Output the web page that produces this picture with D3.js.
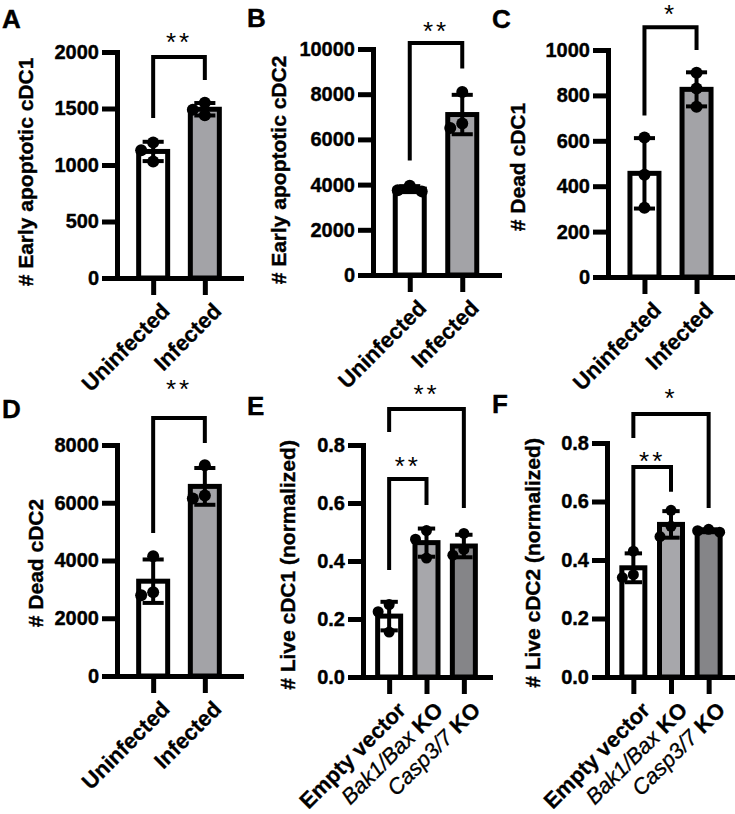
<!DOCTYPE html>
<html>
<head>
<meta charset="utf-8">
<script src="https://cdn.jsdelivr.net/npm/d3@7"></script>
<style>
  body { margin: 0; background: #fff; }
  text { font-family: "Liberation Sans", Arial, sans-serif; }
</style>
</head>
<body>
<svg id="fig" width="735" height="814"></svg>
<script>
// groups on the x axis
const infGroups = ["Uninfected", "Infected"];
const koGroups = ["Empty vector", "Bak1/Bax KO", "Casp3/7 KO"];

// replicate values (3 per group)
const earlyCDC1 = [[1200, 1130, 1030], [1550, 1490, 1440]];
const earlyCDC2 = [[3950, 3750, 3700], [8100, 6700, 6500]];
const deadCDC1 = [[615, 450, 305], [900, 830, 750]];
const deadCDC2 = [[4150, 2900, 2800], [7300, 6250, 6150]];
const liveCDC1 = [[0.25, 0.225, 0.155], [0.505, 0.475, 0.41], [0.495, 0.44, 0.42]];
const liveCDC2 = [[0.43, 0.35, 0.34], [0.57, 0.515, 0.48], [0.505, 0.5, 0.495]];

// y tick labels
const ticksA = [0, 500, 1000, 1500, 2000];
const ticksB = [0, 2000, 4000, 6000, 8000, 10000];
const ticksC = [0, 200, 400, 600, 800, 1000];
const ticksD = [0, 2000, 4000, 6000, 8000];
const ticksE = [0, 0.2, 0.4, 0.6, 0.8];

// significance: [from, to, bracket level, left leg end, right leg end, label, label level]
const sigA = [[0, 1, 1956, 1416, 1752, "**", 2140]];
const sigB = [[0, 1, 10260, 5070, 9140, "**", 11060]];
const sigC = [[0, 1, 1100, 712, 1000, "*", 1186]];
const sigD = [[0, 1, 8935, 4950, 8070, "**", 10147]];
const sigE = [[0, 1, 0.683, 0.369, 0.593, "**", 0.748], [0, 2, 0.924, 0.845, 0.583, "**", 0.997]];
const sigF = [[0, 1, 0.718, 0.441, 0.633, "**", 0.759], [0, 2, 0.899, 0.817, 0.578, "*", 0.974]];

const infFills = ["#ffffff", "#a3a3a7"];
const koFills = ["#ffffff", "#a7a7ab", "#858588"];

const svg = d3.select("#fig");
const sw = 5;
const font = "'Liberation Sans', Arial, sans-serif";

const panels = [
  { letter: "A", groups: infGroups, values: earlyCDC1, ticks: ticksA, sig: sigA, fills: infFills,
    ylab: "# Early apoptotic cDC1", left: 117, right: 241, bottom: 278, top: 52, lx: 2, ly: 28, yx: 33, yy: 172 },
  { letter: "B", groups: infGroups, values: earlyCDC2, ticks: ticksB, sig: sigB, fills: infFills,
    ylab: "# Early apoptotic cDC2", left: 373, right: 499, bottom: 275, top: 49, lx: 247, ly: 27, yx: 286, yy: 170 },
  { letter: "C", groups: infGroups, values: deadCDC1, ticks: ticksC, sig: sigC, fills: infFills,
    ylab: "# Dead cDC1", left: 608, right: 733, bottom: 277, top: 50, lx: 492, ly: 28, yx: 525, yy: 167 },
  { letter: "D", groups: infGroups, values: deadCDC2, ticks: ticksD, sig: sigD, fills: infFills,
    ylab: "# Dead cDC2", left: 117, right: 241, bottom: 676, top: 445, lx: 2, ly: 418, yx: 43, yy: 563 },
  { letter: "E", groups: koGroups, values: liveCDC1, ticks: ticksE, sig: sigE, fills: koFills,
    ylab: "# Live cDC1 (normalized)", left: 363, right: 490, bottom: 677, top: 445, lx: 247, ly: 415, yx: 295, yy: 565, fmt: d3.format(".1f") },
  { letter: "F", groups: koGroups, values: liveCDC2, ticks: ticksE, sig: sigF, fills: koFills,
    ylab: "# Live cDC2 (normalized)", left: 607, right: 735, bottom: 677, top: 443, lx: 492, ly: 413, yx: 540, yy: 563, fmt: d3.format(".1f") }
];

// simple swarm so overlapping dots spread sideways
function swarm(vals, y, r) {
  const order = d3.range(vals.length).sort((a, b) => vals[b] - vals[a]);
  const placed = [];
  const off = vals.map(() => 0);
  for (const i of order) {
    const yi = y(vals[i]);
    for (const c of [0, -2 * r, 2 * r, -r, r]) {
      if (placed.every(p => Math.hypot(p.x - c, p.y - yi) >= 2 * r * 0.95)) {
        off[i] = c;
        placed.push({ x: c, y: yi });
        break;
      }
    }
  }
  return off;
}

panels.forEach(p => {
  const g = svg.append("g");
  const x = d3.scalePoint().domain(p.groups).range([p.left, p.right]).padding(0.7);
  const y = d3.scaleLinear().domain([0, d3.max(p.ticks)]).range([p.bottom, p.top]);
  const bw = p.groups.length === 2 ? 34 : 28;
  const capW = bw * 0.62;
  const r = p.groups.length === 2 ? 6 : 5.5;

  const stats = p.values.map((v, i) => ({
    g: p.groups[i], vals: v, mean: d3.mean(v), sd: d3.deviation(v), fill: p.fills[i]
  }));

  // bars
  g.selectAll("rect.bar").data(stats).join("rect")
    .attr("class", "bar")
    .attr("x", d => x(d.g) - (bw - sw) / 2)
    .attr("width", bw - sw)
    .attr("y", d => y(d.mean))
    .attr("height", d => p.bottom - y(d.mean))
    .attr("fill", d => d.fill)
    .attr("stroke", "#000")
    .attr("stroke-width", sw);

  // error bars (mean +/- SD)
  const eb = g.selectAll("g.err").data(stats).join("g").attr("class", "err")
    .attr("stroke", "#000").attr("stroke-width", 4);
  eb.append("line")
    .attr("x1", d => x(d.g)).attr("x2", d => x(d.g))
    .attr("y1", d => y(d.mean - d.sd)).attr("y2", d => y(d.mean + d.sd));
  eb.append("line")
    .attr("x1", d => x(d.g) - capW / 2).attr("x2", d => x(d.g) + capW / 2)
    .attr("y1", d => y(d.mean + d.sd)).attr("y2", d => y(d.mean + d.sd));
  eb.append("line")
    .attr("x1", d => x(d.g) - capW / 2).attr("x2", d => x(d.g) + capW / 2)
    .attr("y1", d => y(d.mean - d.sd)).attr("y2", d => y(d.mean - d.sd));

  // replicate dots
  stats.forEach(s => {
    const off = swarm(s.vals, y, r);
    g.selectAll(null).data(s.vals).join("circle")
      .attr("cx", (d, i) => x(s.g) + off[i])
      .attr("cy", d => y(d))
      .attr("r", r)
      .attr("fill", "#000");
  });

  // y axis
  const ya = g.append("g")
    .attr("transform", `translate(${p.left},0)`)
    .call(d3.axisLeft(y).tickValues(p.ticks).tickFormat(p.fmt || d3.format("d"))
      .tickSize(15).tickSizeOuter(0).tickPadding(3));
  // x axis
  const xa = g.append("g")
    .attr("transform", `translate(0,${p.bottom})`)
    .call(d3.axisBottom(x).tickSize(17).tickSizeOuter(0));

  [ya, xa].forEach(a => {
    a.select(".domain").attr("stroke", "#000").attr("stroke-width", sw).attr("stroke-linecap", "square");
    a.selectAll(".tick line").attr("stroke", "#000").attr("stroke-width", sw);
  });
  ya.selectAll(".tick text")
    .attr("fill", "#000").attr("stroke", "#000").attr("stroke-width", 0.4)
    .style("font-size", "20px").style("font-weight", "bold").style("font-family", font);

  xa.selectAll(".tick text").remove();
  xa.selectAll(".tick").append("text")
    .attr("transform", "translate(12,29) rotate(-45)")
    .attr("text-anchor", "end")
    .attr("dy", "0.35em")
    .attr("fill", "#000")
    .attr("stroke", "#000").attr("stroke-width", 0.3)
    .style("font-size", "22px")
    .style("font-family", font)
    .each(function (d) {
      const t = d3.select(this);
      if (d.endsWith(" KO")) {
        t.append("tspan").style("font-style", "italic").text(d.slice(0, -3));
        t.append("tspan").style("font-weight", "bold").text(" KO");
      } else {
        t.style("font-weight", "bold").text(d);
      }
    });

  // y axis title
  g.append("text")
    .attr("transform", `translate(${p.yx},${p.yy}) rotate(-90)`)
    .attr("text-anchor", "middle")
    .attr("stroke", "#000").attr("stroke-width", 0.4)
    .style("font-size", "21px").style("font-weight", "bold")
    .text(p.ylab);

  // panel letter
  g.append("text")
    .attr("x", p.lx).attr("y", p.ly)
    .attr("stroke", "#000").attr("stroke-width", 0.4)
    .style("font-size", "26px").style("font-weight", "bold")
    .text(p.letter);

  // significance brackets
  p.sig.forEach(([a, b, lvl, e1, e2, lab, ll]) => {
    const xa1 = x(p.groups[a]), xb1 = x(p.groups[b]);
    g.append("path")
      .attr("d", d3.line()([[xa1, y(e1)], [xa1, y(lvl)], [xb1, y(lvl)], [xb1, y(e2)]]))
      .attr("fill", "none").attr("stroke", "#000").attr("stroke-width", 4);
    g.append("text")
      .attr("x", (xa1 + xb1) / 2).attr("y", y(ll) + 15)
      .attr("text-anchor", "middle")
      .style("font-size", "26px").style("letter-spacing", "3px")
      .text(lab);
  });
});
</script>
</body>
</html>
